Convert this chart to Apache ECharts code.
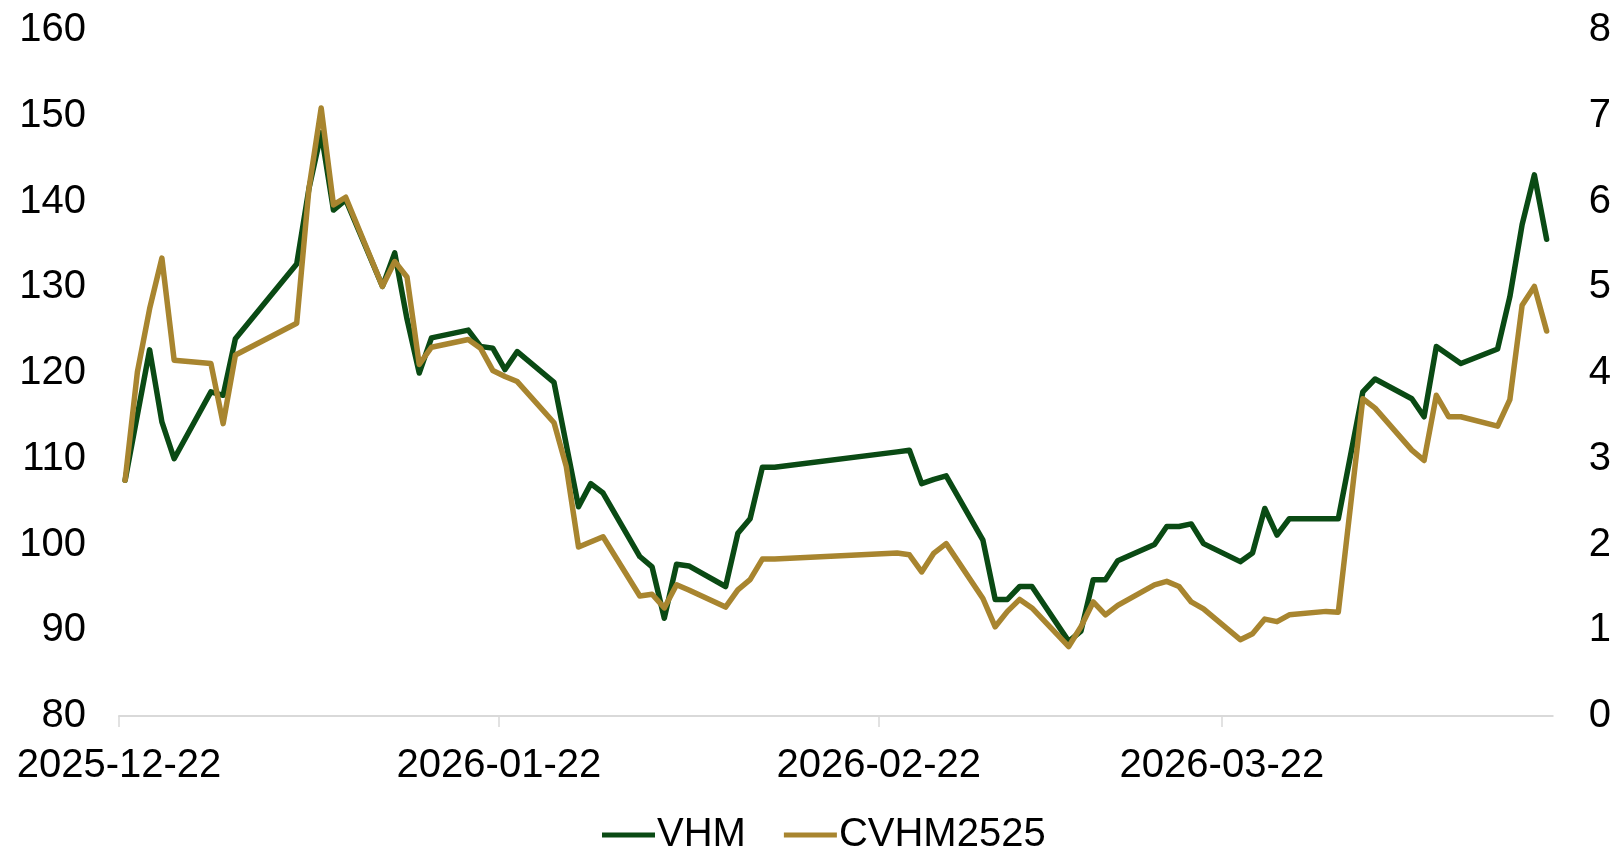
<!DOCTYPE html>
<html>
<head>
<meta charset="utf-8">
<title>VHM / CVHM2525</title>
<script src="https://cdn.jsdelivr.net/npm/echarts@6.0.0/dist/echarts.min.js"></script>
<style>
html,body{margin:0;padding:0;background:#ffffff;}
#psLine{width:1614px;height:848px;}
</style>
</head>
<body>
<div id="psLine"></div>
<script>
// trading days shown on the chart
var tradeDates = [
	'2025-12-22','2025-12-23','2025-12-24','2025-12-25','2025-12-26','2025-12-29','2025-12-30','2025-12-31',
	'2026-01-05','2026-01-06','2026-01-07','2026-01-08','2026-01-09',
	'2026-01-12','2026-01-13','2026-01-14','2026-01-15','2026-01-16',
	'2026-01-19','2026-01-20','2026-01-21','2026-01-22','2026-01-23',
	'2026-01-26','2026-01-27','2026-01-28','2026-01-29','2026-01-30',
	'2026-02-02','2026-02-03','2026-02-04','2026-02-05','2026-02-06',
	'2026-02-09','2026-02-10','2026-02-11','2026-02-12','2026-02-13',
	'2026-02-23','2026-02-24','2026-02-25','2026-02-26','2026-02-27',
	'2026-03-02','2026-03-03','2026-03-04','2026-03-05','2026-03-06',
	'2026-03-09','2026-03-10','2026-03-11','2026-03-12','2026-03-13',
	'2026-03-16','2026-03-17','2026-03-18','2026-03-19','2026-03-20',
	'2026-03-23','2026-03-24','2026-03-25','2026-03-26','2026-03-27',
	'2026-03-30','2026-03-31','2026-04-02','2026-04-03',
	'2026-04-06','2026-04-07','2026-04-08','2026-04-09','2026-04-10',
	'2026-04-13','2026-04-14','2026-04-15','2026-04-16','2026-04-17'
];
var vhmValues = [
	107.5, null, 122.7, 114.3, 110.0, 117.8, 117.4, 124.0,
	132.7, 141.5, 148.0, 139.0, 140.2,
	130.1, 134.0, 126.3, 120.0, 124.1,
	125.0, 123.1, 122.9, 120.4, 122.5,
	118.9, null, 104.4, 107.1, 106.0,
	98.6, 97.4, 91.4, 97.7, 97.5,
	95.1, 101.3, 103.0, 109.0, 109.0,
	110.8, 111.0, 107.1, 107.6, 108.0,
	100.5, 93.6, 93.6, 95.1, 95.1,
	88.7, 89.9, 95.9, 95.9, 98.1,
	100.0, 102.1, 102.1, 102.4, 100.1,
	98.0, 99.0, 104.2, 101.1, 103.0,
	103.0, 103.0, 117.8, 119.3,
	117.0, 114.9, 123.1, null, 121.1,
	122.8, 128.9, 137.3, 143.1, 135.6
];
var cwValues = [
	2.75, 4.01, 4.75, 5.34, 4.15, 4.11, 3.41, 4.21,
	4.58, 6.15, 7.09, 5.96, 6.05,
	5.01, 5.30, 5.12, 4.10, 4.30,
	4.39, 4.29, 4.03, 3.96, 3.90,
	3.42, 2.91, 1.97, null, 2.09,
	1.40, 1.42, 1.26, 1.53, 1.47,
	1.27, 1.47, 1.59, 1.83, 1.83,
	1.90, 1.88, 1.68, 1.90, 2.01,
	1.37, 1.04, 1.22, 1.36, 1.26,
	0.81, 1.04, 1.33, 1.18, 1.29,
	1.53, 1.57, 1.51, 1.33, 1.25,
	0.89, 0.96, 1.13, 1.10, 1.18,
	1.22, 1.21, 3.70, 3.59,
	3.10, 2.98, 3.74, 3.49, 3.49,
	3.38, 3.69, 4.79, 5.01, 4.49
];
var xTickDates = ['2025-12-22','2026-01-22','2026-02-22','2026-03-22'];
var seriesNames = ['VHM','CVHM2525'];
var seriesColors = ['#0a4a14','#a8852f'];

var HALF_DAY = 12 * 3600 * 1000;
var FONT = '"Liberation Sans", Arial, sans-serif';

initChart();

function initChart(){
	var psLineChar = echarts.init(document.getElementById('psLine'));
	psLineChar.setOption(buildOption(), true);
}
function dayStart(s){
	var p = s.split('-');
	return new Date(+p[0], +p[1] - 1, +p[2]).getTime();
}
function pad(n){
	return n < 10 ? '0' + n : '' + n;
}
function fmtDate(v){
	var d = new Date(v);
	return d.getFullYear() + '-' + pad(d.getMonth() + 1) + '-' + pad(d.getDate());
}
// excel date axis: each point sits in the middle of its day
function toPoints(values){
	return tradeDates.map(function(d, i){
		return [dayStart(d) + HALF_DAY, values[i]];
	});
}
function makeLine(idx, values){
	return {
		name: seriesNames[idx],
		type: 'line',
		yAxisIndex: idx,
		data: toPoints(values),
		showSymbol: false,
		symbol: 'none',
		connectNulls: true,
		animation: false,
		lineStyle: {width: 5.5, color: seriesColors[idx], cap: 'round', join: 'round'},
		itemStyle: {color: seriesColors[idx]}
	};
}
function yLabel(margin){
	return {margin: margin, color: '#000', fontSize: 40, fontFamily: FONT, padding: [10, 0, 0, 0]};
}
function buildOption(){
	var tickValues = xTickDates.map(dayStart);
	return {
		backgroundColor: '#ffffff',
		animation: false,
		grid: {left: 119, right: 57, top: 30, bottom: 132},
		legend: {
			data: seriesNames,
			left: 597,
			top: 810,
			icon: 'rect',
			itemWidth: 53,
			itemHeight: 5,
			itemGap: 38,
			textStyle: {color: '#000', fontSize: 40, fontFamily: FONT, padding: [0, 0, 0, -3]}
		},
		// dates as millisecond values on a plain value axis
		xAxis: {
			type: 'value',
			min: dayStart('2025-12-22'),
			max: dayStart('2026-04-18'),
			axisLine: {show: true, lineStyle: {color: '#d9d9d9', width: 2}},
			axisTick: {show: true, customValues: tickValues, length: 11, lineStyle: {color: '#d9d9d9', width: 1.5}},
			axisLabel: {
				customValues: tickValues,
				margin: 30,
				color: '#000',
				fontSize: 40,
				fontFamily: FONT,
				formatter: function(v){ return fmtDate(v); }
			},
			splitLine: {show: false}
		},
		yAxis: [
			{
				type: 'value', min: 80, max: 160, interval: 10,
				axisLine: {show: false}, axisTick: {show: false},
				splitLine: {show: false},
				axisLabel: yLabel(33)
			},
			{
				type: 'value', min: 0, max: 8, interval: 1,
				axisLine: {show: false}, axisTick: {show: false},
				splitLine: {show: false},
				axisLabel: yLabel(36)
			}
		],
		series: [makeLine(0, vhmValues), makeLine(1, cwValues)]
	};
}
</script>
</body>
</html>
